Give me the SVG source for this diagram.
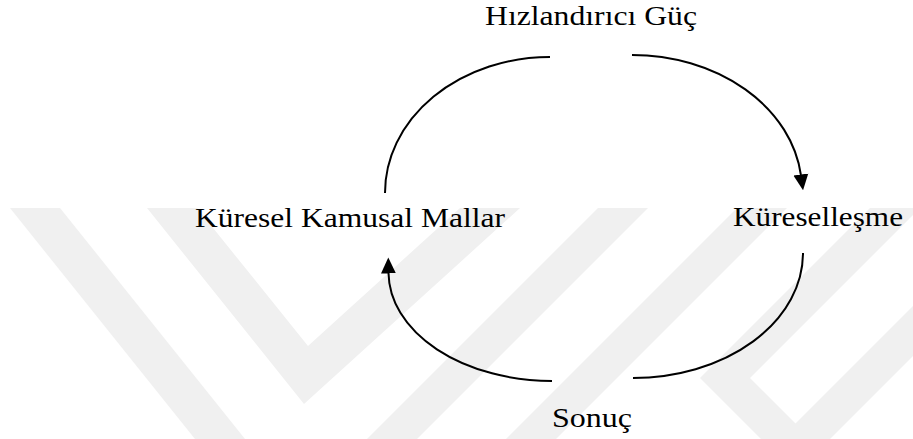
<svg xmlns="http://www.w3.org/2000/svg" width="913" height="439" viewBox="0 0 913 439">
<style>
.wm{fill:#f0f0f0;stroke:none}
.arc{fill:none;stroke:#000;stroke-width:2}
</style>
<defs>
<marker id="arrow" markerUnits="userSpaceOnUse" markerWidth="16" markerHeight="16" viewBox="0 0 16 16" refX="0.5" refY="8" orient="auto">
<path d="M0,0.5 L16,8 L0,15.5 z" fill="#000"/>
</marker>
</defs>
<rect width="913" height="439" fill="#fff"/>
<g id="watermark">
<polygon class="wm" points="10,208 60,208 245,439 195,439"/>
<polygon class="wm" points="147,208 197,208 308,346 460,208 520,208 304,404"/>
<polygon class="wm" points="367,439 417,439 648,208 598,208"/>
<polygon class="wm" points="506,439 556,439 787,208 737,208"/>
<polygon class="wm" points="700,378 870,208 913,208 913,215 750,378 811,439 761,439"/>
<polygon class="wm" points="780,439 830,439 913,356 913,306"/>
</g>
<g id="connectors">
<path class="arc" d="M550,57 A165,136 0 0 0 385,193"/>
<path class="arc" d="M632,55 A170,135 0 0 1 800.9,175" marker-end="url(#arrow)"/>
<path class="arc" d="M803,253 A170,125 0 0 1 633,378"/>
<path class="arc" d="M552,381 A164,109 0 0 1 388.5,273" marker-end="url(#arrow)"/>
</g>
<g font-family="Liberation Serif, serif" font-size="28" fill="#000" text-anchor="middle">
<g id="node-hizlandirici">
<text x="591" y="25" textLength="212" lengthAdjust="spacingAndGlyphs">Hızlandırıcı Güç</text>
</g>
<g id="node-kamusal">
<text x="350" y="227" textLength="310" lengthAdjust="spacingAndGlyphs">Küresel Kamusal Mallar</text>
</g>
<g id="node-kuresellesme">
<text x="818" y="226" textLength="170" lengthAdjust="spacingAndGlyphs">Küreselleşme</text>
</g>
<g id="node-sonuc">
<text x="592" y="427" textLength="80" lengthAdjust="spacingAndGlyphs">Sonuç</text>
</g>
</g>
</svg>
